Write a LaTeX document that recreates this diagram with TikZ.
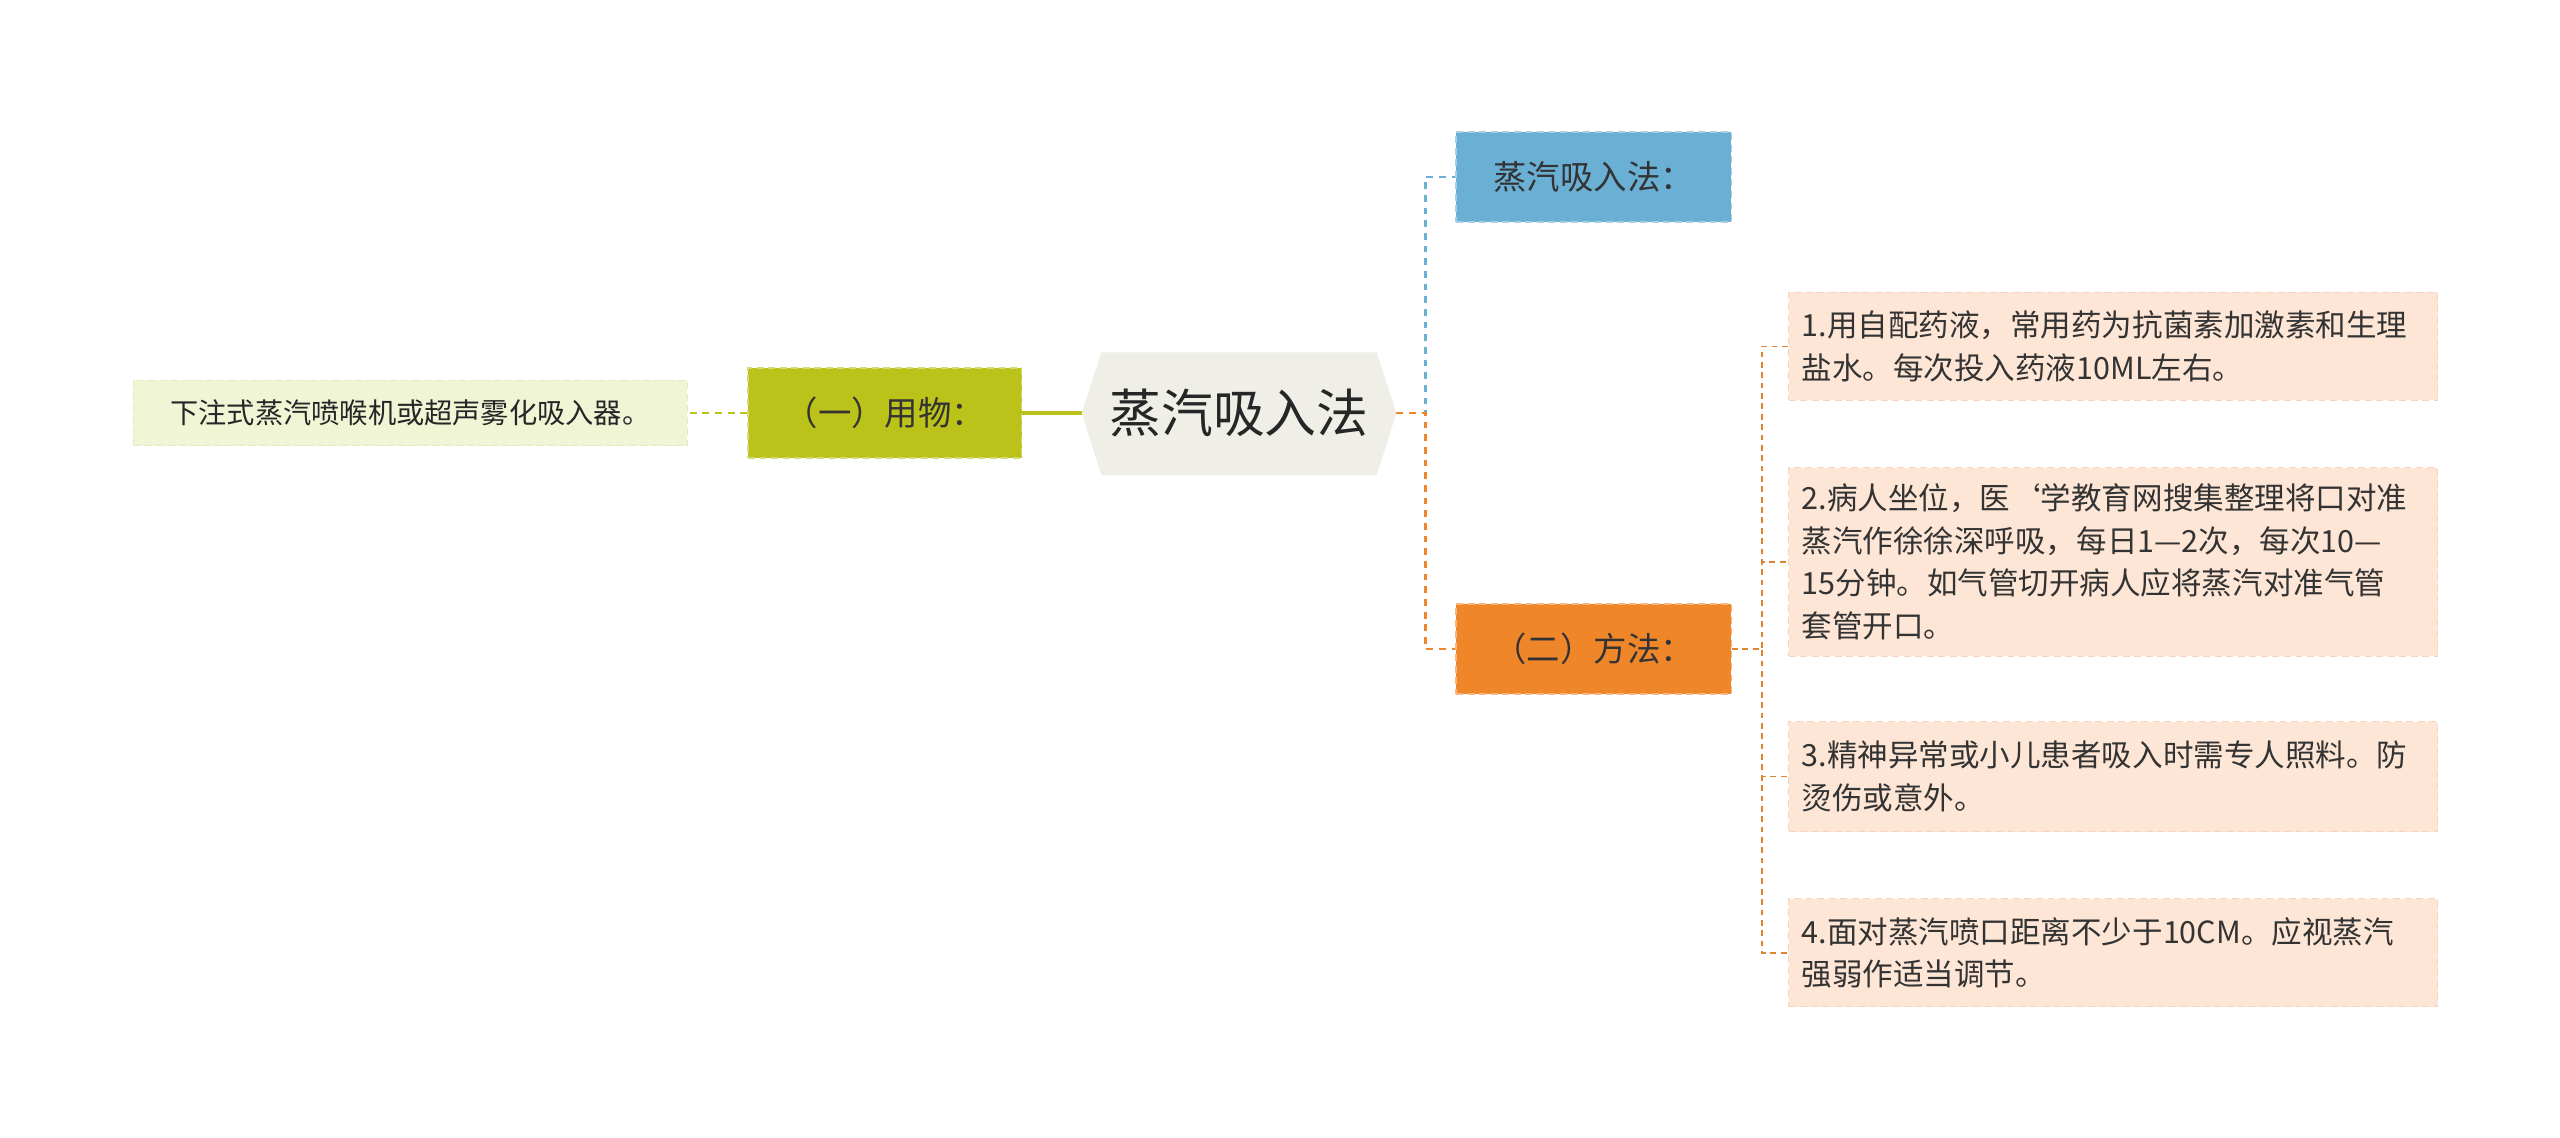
\documentclass[tikz,border=0pt]{standalone}
\usepackage{fontspec}
\setmainfont{Noto Sans CJK SC}
\begin{document}
\begin{tikzpicture}[x=0.05cm,y=-0.05cm,
  box/.style={minimum height=#1*0.05cm, inner sep=0pt, anchor=west, dash pattern=on 6pt off 4pt, line width=1.2pt},
  leaf/.style={fill=leafc, draw=leafd, dash pattern=on 6pt off 4pt, line width=1pt, anchor=north west, minimum width=396*0.05cm, text width=380*0.05cm, inner xsep=8*0.05cm, inner ysep=0pt, align=left, font=\fontsize{26.5pt}{37pt}\selectfont, text=black!80},
  con/.style={dash pattern=on 6pt off 5pt, line width=2.4pt}]
\definecolor{leafc}{HTML}{FDE6D6}
\definecolor{leafd}{HTML}{F9D3BB}
\definecolor{oran}{HTML}{F0862A}
\definecolor{olive}{HTML}{BBC21A}
\definecolor{blu}{HTML}{6AAFD4}
\useasboundingbox (0,0) rectangle (1562,694);
\fill[white] (0,0) rectangle (1562,694);
% root
\fill[fill={rgb,255:red,239;green,239;blue,231}] (660,252)--(672,215)--(840,215)--(852,252)--(840,290)--(672,290)--cycle;
\node[minimum width=192*0.05cm, minimum height=75*0.05cm, inner sep=0pt, font=\fontsize{45pt}{50pt}\selectfont, text=black!85] (root) at (756,252) {蒸汽吸入法};
\coordinate (rl) at (660,252);
\coordinate (rr) at (852,252);
% left
\node[box=55, fill=olive, draw=olive!60!white, minimum width=167*0.05cm, font=\fontsize{29pt}{32pt}\selectfont, text=black!80] (yw) at (456,252) {（一）用物：};
\node[box=40, fill={rgb,255:red,240;green,245;blue,214}, draw={rgb,255:red,228;green,236;blue,190}, minimum width=338*0.05cm, font=\fontsize{24.5pt}{28pt}\selectfont, text=black!85] (ll) at (81,252) {下注式蒸汽喷喉机或超声雾化吸入器。};
\draw[olive, line width=3pt] (rl) -- (yw.east);
\draw[olive, con] (yw.west) -- (ll.east);
% right
\node[box=55, fill=blu, draw=blu!60!white, minimum width=168*0.05cm, font=\fontsize{29pt}{32pt}\selectfont, text=black!80] (zq) at (888,108) {蒸汽吸入法：};
\node[box=55, fill=oran, draw=oran!60!white, minimum width=168*0.05cm, font=\fontsize{29pt}{32pt}\selectfont, text=black!80] (ff) at (888,396) {（二）方法：};
\draw[blu, con] (rr) -- (870,252) |- (zq.west);
\draw[oran, con] (rr) -- (870,252) |- (ff.west);
% leaves
\node[leaf, minimum height=66*0.05cm] (a) at (1091,178) {1.用自配药液，常用药为抗菌素加激素和生理\\盐水。每次投入药液10ML左右。};
\node[leaf, minimum height=115*0.05cm] (b) at (1091,285) {2.病人坐位，医\symbol{96}学教育网搜集整理将口对准\\蒸汽作徐徐深呼吸，每日1—2次，每次10—\\15分钟。如气管切开病人应将蒸汽对准气管\\套管开口。};
\node[leaf, minimum height=67*0.05cm] (c) at (1091,440) {3.精神异常或小儿患者吸入时需专人照料。防\\烫伤或意外。};
\node[leaf, minimum height=66*0.05cm] (d) at (1091,548) {4.面对蒸汽喷口距离不少于10CM。应视蒸汽\\强弱作适当调节。};
\coordinate (fj) at (1075,396);
\foreach \n in {a,b,c,d}{
  \draw[oran!70!brown, dash pattern=on 5pt off 4pt, line width=1.5pt] (ff.east) -- (fj) |- (\n.west);
}
\end{tikzpicture}
\end{document}
